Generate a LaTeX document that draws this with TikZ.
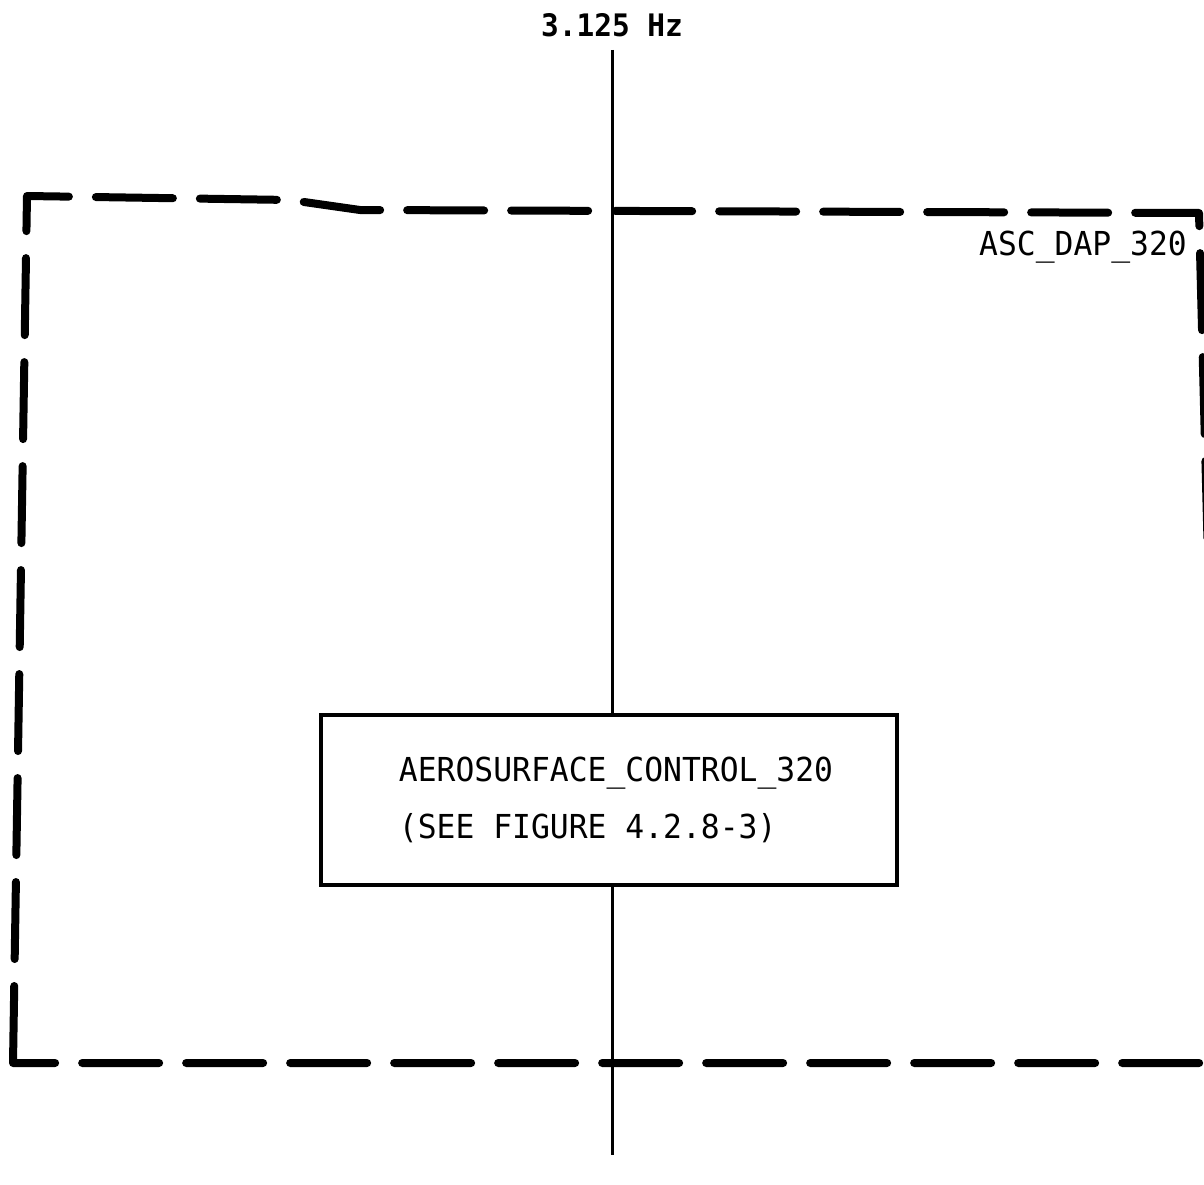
\documentclass[tikz,border=0pt]{standalone}
\usepackage{fontspec}
\newfontfamily\plotfont[FakeStretch=0.95]{DejaVu Sans Mono}
\begin{document}
\begin{tikzpicture}[x=1pt,y=-1pt,
  dashedge/.style={line width=8pt, line cap=round, line join=round, dash pattern=on 77pt off 27pt},
  procbox/.style={draw, line width=4.5pt, rectangle, minimum width=576pt, minimum height=170pt, inner sep=0pt, align=left, font=\plotfont\fontsize{33}{57}\selectfont},
  lbl/.style={inner sep=0pt, font=\plotfont\fontsize{33}{40}\selectfont},
  flow/.style={line width=3pt}]
\useasboundingbox (0,0) rectangle (1204,1185);
\clip (0,0) rectangle (1204,1185);
% outer dashed module boundary
\draw[dashedge] (13,1063) -- (27,196) -- (290,200) -- (360,210) -- (1199,213) -- (1221,1063) -- cycle;
\node[lbl, anchor=base east] (dap) at (1187,255) {ASC\_DAP\_320};
% rate label and flow line
\node[inner sep=0pt, anchor=base, font=\plotfont\bfseries\fontsize{31}{36}\selectfont] (hz) at (612,37) {3.125 Hz};
\coordinate (top) at (612,50);
\coordinate (bot) at (612,1155);
\node[procbox] (asc) at (609,800) {\hspace*{14pt}AEROSURFACE\_CONTROL\_320\\\hspace*{14pt}(SEE FIGURE 4.2.8-3)};
\draw[flow] (top) -- (top |- asc.north);
\draw[flow] (asc.south -| bot) -- (bot);
\end{tikzpicture}
\end{document}
